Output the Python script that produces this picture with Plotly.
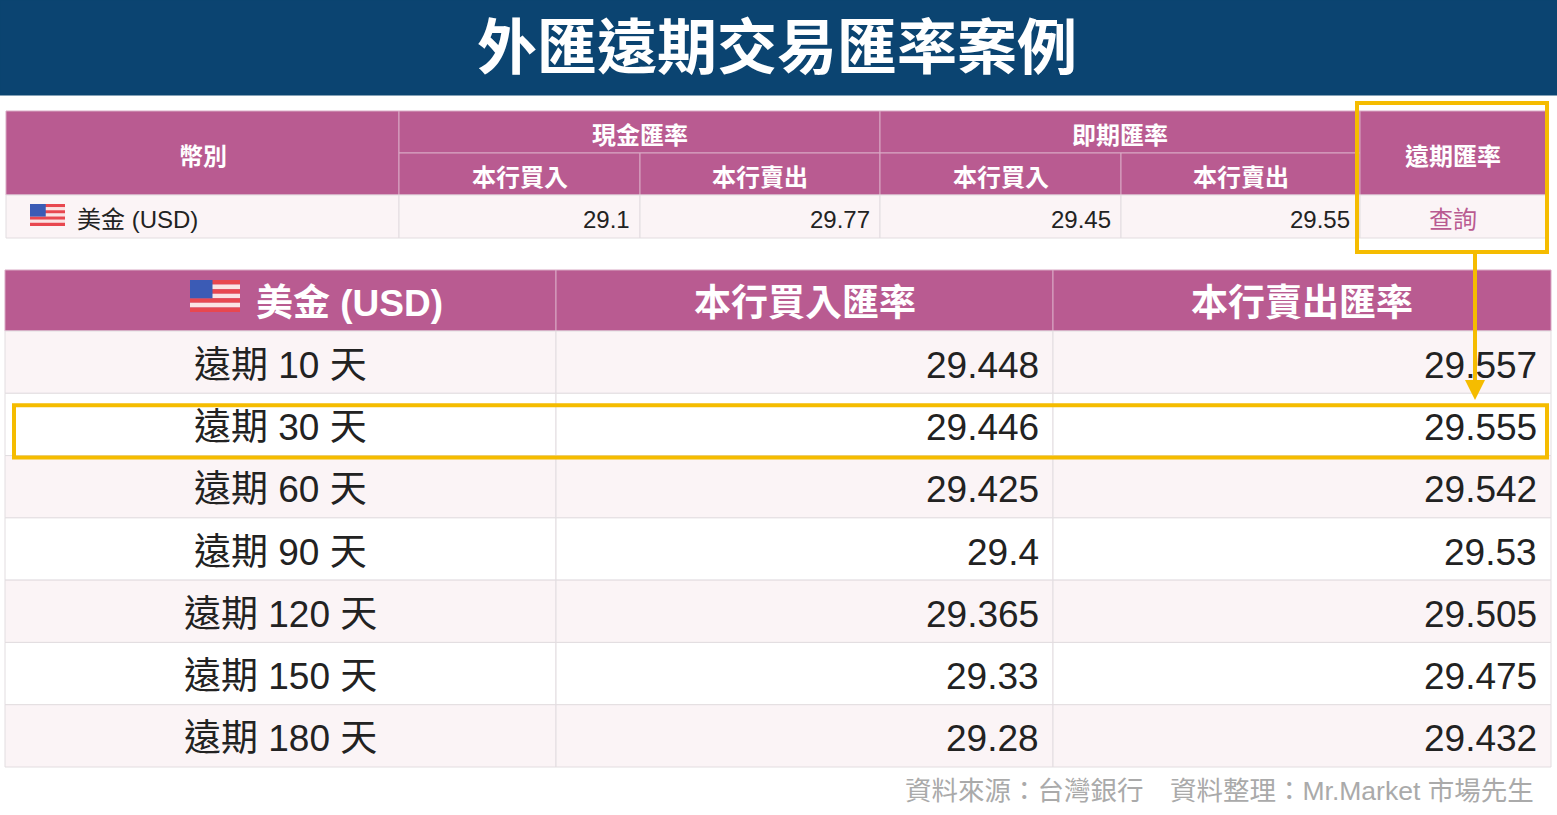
import plotly.graph_objects as go

# data
title = "外匯遠期交易匯率案例"
spot_groups = ["現金匯率", "即期匯率"]
spot_sub = ["本行買入", "本行賣出", "本行買入", "本行賣出"]
spot_values = ["29.1", "29.77", "29.45", "29.55"]
fwd_periods = ["遠期 10 天", "遠期 30 天", "遠期 60 天", "遠期 90 天",
               "遠期 120 天", "遠期 150 天", "遠期 180 天"]
fwd_buy = ["29.448", "29.446", "29.425", "29.4", "29.365", "29.33", "29.28"]
fwd_sell = ["29.557", "29.555", "29.542", "29.53", "29.505", "29.475", "29.432"]
fwd_headers = ["美金 (USD)", "本行買入匯率", "本行賣出匯率"]
source = "資料來源：台灣銀行　資料整理：Mr.Market 市場先生"

W, H = 1557, 815
PINK = "#b95b91"
ROW_A = "#fbf4f6"
GRID = "#e2dde0"
YEL = "#f5bc00"
FONT = "Liberation Sans, Noto Sans CJK TC"

shapes, ann = [], []

def rect(x0, y0, x1, y1, fill, line=GRID, w=1):
    shapes.append(dict(type="rect", x0=x0, y0=y0, x1=x1, y1=y1, fillcolor=fill,
                       line=dict(color=line, width=w), layer="below"))

def text(x, y, s, size, color="#222", anchor="center", bold=False):
    if bold:
        s = "<b>" + s + "</b>"
    ann.append(dict(x=x, y=y + 3, text=s, showarrow=False, xanchor=anchor, yanchor="middle",
                    font=dict(size=size, color=color, family=FONT)))

def flag(x, y, w, h):
    for i in range(7):
        rect(x, y + i * h / 7, x + w, y + (i + 1) * h / 7, "#e8474f" if i % 2 == 0 else "#fbe3e3", line="rgba(0,0,0,0)", w=0)
    rect(x, y, x + w * 0.45, y + h * 4 / 7, "#3b5bb5", line="rgba(0,0,0,0)", w=0)

# title bar
rect(0, 0, W, 95, "#0b4471", line="#0b4471")
text(W / 2 - 2, 45, title, 60, "white", bold=True)

# top table
cx = [6, 399, 640, 880, 1121, 1360, 1546]
y0, y1, y2, y3 = 111, 153, 195, 238
rect(cx[0], y0, cx[1], y2, PINK, "#d9a9c4")
text((cx[0] + cx[1]) / 2, (y0 + y2) / 2, "幣別", 24, "white", bold=True)
for g, name in enumerate(spot_groups):
    a, b = cx[1 + 2 * g], cx[3 + 2 * g]
    rect(a, y0, b, y1, PINK, "#d9a9c4")
    text((a + b) / 2, (y0 + y1) / 2, name, 24, "white", bold=True)
for i, name in enumerate(spot_sub):
    rect(cx[1 + i], y1, cx[2 + i], y2, PINK, "#d9a9c4")
    text((cx[1 + i] + cx[2 + i]) / 2, (y1 + y2) / 2, name, 24, "white", bold=True)
rect(cx[5], y0, cx[6], y2, PINK, "#d9a9c4")
text((cx[5] + cx[6]) / 2, (y0 + y2) / 2, "遠期匯率", 24, "white", bold=True)
for i in range(6):
    rect(cx[i], y2, cx[i + 1], y3, ROW_A)
flag(30, 204, 35, 22)
text(75, (y2 + y3) / 2, "美金 (USD)", 24, "#222", "left")
for i, v in enumerate(spot_values):
    text(cx[2 + i] - 8, (y2 + y3) / 2, v, 24, "#222", "right")
text((cx[5] + cx[6]) / 2, (y2 + y3) / 2, "查詢", 24, PINK)

# bottom table
bx = [5, 556, 1053, 1551]
hy0, hy1 = 270, 331
rh = (767 - hy1) / len(fwd_periods)
for j in range(3):
    rect(bx[j], hy0, bx[j + 1], hy1, PINK, "#d9a9c4")
flag(190, 280, 50, 32)
text(254, (hy0 + hy1) / 2, fwd_headers[0], 37, "white", "left", bold=True)
for j in (1, 2):
    text((bx[j] + bx[j + 1]) / 2, (hy0 + hy1) / 2, fwd_headers[j], 37, "white", bold=True)
for i, p in enumerate(fwd_periods):
    ya, yb = hy1 + i * rh, hy1 + (i + 1) * rh
    fill = ROW_A if i % 2 == 0 else "white"
    for j in range(3):
        rect(bx[j], ya, bx[j + 1], yb, fill)
    ym = (ya + yb) / 2
    text((bx[0] + bx[1]) / 2, ym, p, 37)
    text(bx[2] - 12, ym, fwd_buy[i], 37, anchor="right")
    text(bx[3] - 12, ym, fwd_sell[i], 37, anchor="right")

# highlights
shapes.append(dict(type="rect", x0=1357, y0=103, x1=1547, y1=252, line=dict(color=YEL, width=4)))
hl = hy1 + 1 * rh
shapes.append(dict(type="rect", x0=14, y0=hl + 12, x1=1547, y1=hl + rh + 2, line=dict(color=YEL, width=4)))
ann.append(dict(x=1475, y=400, ax=1475, ay=252, xref="x", yref="y", axref="x", ayref="y",
                text="", showarrow=True, arrowhead=2, arrowsize=1, arrowwidth=4, arrowcolor=YEL))

text(1536, 788, source, 26.5, "#aaaaaa", "right")

fig = go.Figure()
fig.update_layout(
    width=W, height=H, margin=dict(l=0, r=0, t=0, b=0),
    plot_bgcolor="white", paper_bgcolor="white",
    xaxis=dict(range=[0, W], visible=False, fixedrange=True),
    yaxis=dict(range=[H, 0], visible=False, fixedrange=True),
    shapes=shapes, annotations=ann, showlegend=False,
)
fig.write_html("out.html", config={"displayModeBar": False},
               post_script="document.body.style.margin='0';document.body.style.overflow='hidden';")
